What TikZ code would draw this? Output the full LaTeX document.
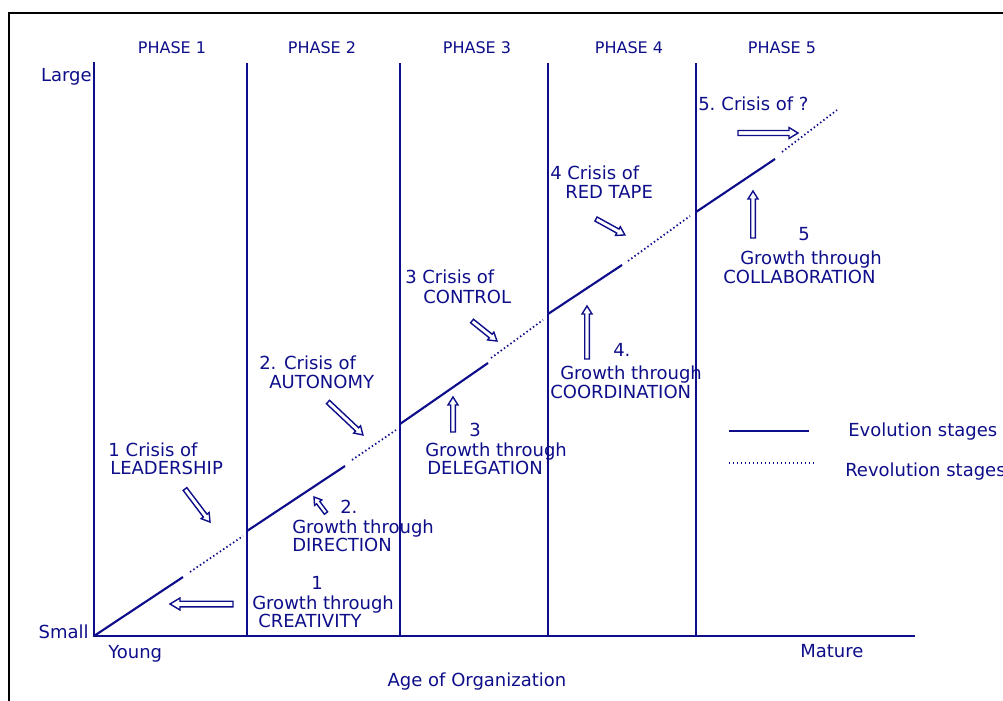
\documentclass[tikz,border=0pt]{standalone}
\usepackage{fontspec}
\setmainfont{DejaVu Sans}
\definecolor{navy}{RGB}{14,14,138}
\tikzset{
  lbl/.style={text=navy, inner sep=0pt, anchor=base west, font=\fontsize{13.5}{16}\selectfont},
  phlbl/.style={text=navy, inner sep=0pt, anchor=base, font=\fontsize{12}{14}\selectfont},
  axisline/.style={draw=navy, line width=1.5pt},
  evo/.style={draw=navy, line width=1.6pt},
  rev/.style={draw=navy, line width=1.3pt, dash pattern=on 1.1pt off 1.9pt},
  arrline/.style={draw=navy, line width=1.05pt, line join=miter},
  frameline/.style={draw=black, line width=1.5pt},
  pics/harrow/.style args={#1/#2/#3/#4}{code={
    \draw[arrline] (0,-#2) -- (#1-#4,-#2) -- (#1-#4,-#3) -- (#1,0) -- (#1-#4,#3) -- (#1-#4,#2) -- (0,#2) -- cycle;
  }}
}
\begin{document}
\begin{tikzpicture}[x=0.75pt,y=-0.75pt]
\useasboundingbox (0,0) rectangle (1003,700);
\clip (0,0) rectangle (1003,700);
% frame
\draw[frameline] (9,701) -- (9,13) -- (1004,13);
% axes and phase lines
\coordinate (o) at (94,636);
\coordinate (ytop) at (94,62);
\coordinate (xend) at (915,636);
\draw[axisline] (ytop) -- (o) -- (xend);
\foreach \x/\n in {247/2,400/3,548/4,696/5}{
  \coordinate (pt\n) at (\x,63);
  \coordinate (pb\n) at (\x,636);
  \draw[axisline] (pt\n) -- (pb\n);
}
% phase labels
\node[phlbl] (ph1) at (172,53) {PHASE 1};
\node[phlbl] (ph2) at (322,53) {PHASE 2};
\node[phlbl] (ph3) at (477,53) {PHASE 3};
\node[phlbl] (ph4) at (629,53) {PHASE 4};
\node[phlbl] (ph5) at (782,53) {PHASE 5};
% axis labels
\node[lbl, anchor=base east] (large) at (92,81) {Large};
\node[lbl, anchor=base east] (small) at (89,638) {Small};
\node[lbl] (young) at (108,658) {Young};
\node[lbl] (mature) at (800,657) {Mature};
\node[lbl, anchor=base] (age) at (477,686) {Age of Organization};
% growth line
\coordinate (s1a) at (94,636);  \coordinate (s1b) at (183,577);
\coordinate (d1a) at (190,572); \coordinate (d1b) at (243,536);
\coordinate (s2a) at (247,531); \coordinate (s2b) at (345,466);
\coordinate (d2a) at (352,460); \coordinate (d2b) at (396,430);
\coordinate (s3a) at (400,424); \coordinate (s3b) at (488,363);
\coordinate (d3a) at (491,358); \coordinate (d3b) at (543,320);
\coordinate (s4a) at (548,314); \coordinate (s4b) at (622,265);
\coordinate (d4a) at (628,261); \coordinate (d4b) at (690,216);
\coordinate (s5a) at (696,212); \coordinate (s5b) at (775,159);
\coordinate (d5a) at (782,152); \coordinate (d5b) at (837,110);
\foreach \i in {1,...,5}{
  \draw[evo] (s\i a) -- (s\i b);
  \draw[rev] (d\i a) -- (d\i b);
}
% crisis labels
\node[lbl] (c1a) at (108,456) {1\,\,Crisis of};
\node[lbl] (c1b) at (110,474) {LEADERSHIP};
\node[lbl] (c2a) at (259,369) {2. Crisis of};
\node[lbl] (c2b) at (269,388) {AUTONOMY};
\node[lbl] (c3a) at (405,283) {3 Crisis of};
\node[lbl] (c3b) at (423,303) {CONTROL};
\node[lbl] (c4a) at (550,179) {4 Crisis of};
\node[lbl] (c4b) at (565,198) {RED TAPE};
\node[lbl] (c5a) at (698,110) {5.\,\,Crisis of ?};
% growth labels
\node[lbl, anchor=base] (g1n) at (317,589) {1};
\node[lbl] (g1a) at (252,609) {Growth through};
\node[lbl] (g1b) at (258,627) {CREATIVITY};
\node[lbl] (g2n) at (340,513) {2.};
\node[lbl] (g2a) at (292,533) {Growth through};
\node[lbl] (g2b) at (292,551) {DIRECTION};
\node[lbl] (g3n) at (469,436) {3};
\node[lbl] (g3a) at (425,456) {Growth through};
\node[lbl] (g3b) at (427,474) {DELEGATION};
\node[lbl] (g4n) at (613,356) {4.};
\node[lbl] (g4a) at (560,379) {Growth through};
\node[lbl] (g4b) at (550,398) {COORDINATION};
\node[lbl] (g5n) at (798,240) {5};
\node[lbl] (g5a) at (740,264) {Growth through};
\node[lbl] (g5b) at (723,283) {COLLABORATION};
% arrows
\coordinate (a1) at (185,489);  \pic[rotate=-52.85] at (a1) {harrow=41.4/2.3/5/8};
\coordinate (a2) at (233,604);  \pic[rotate=180] at (a2) {harrow=63/2.8/6/10};
\coordinate (a3) at (326,513);  \pic[rotate=126.9] at (a3) {harrow=20/2/4.5/7};
\coordinate (a4) at (328,402);  \pic[rotate=-43.3] at (a4) {harrow=48/2.3/5/8};
\coordinate (a5) at (453,432);  \pic[rotate=90] at (a5) {harrow=35/2.3/5/8};
\coordinate (a6) at (472,321);  \pic[rotate=-38.7] at (a6) {harrow=32/2.3/5/8};
\coordinate (a7) at (587,359);  \pic[rotate=90] at (a7) {harrow=53/2.3/5/8};
\coordinate (a8) at (596,219);  \pic[rotate=-28.9] at (a8) {harrow=33/2.3/5/8};
\coordinate (a9) at (753,238);  \pic[rotate=90] at (a9) {harrow=47/2.3/5/8};
\coordinate (a10) at (738,133); \pic at (a10) {harrow=60/2.5/5.5/9};
% legend
\coordinate (le1) at (729,431); \coordinate (le2) at (809,431);
\coordinate (lr1) at (729,463); \coordinate (lr2) at (814,463);
\draw[evo] (le1) -- (le2);
\draw[rev] (lr1) -- (lr2);
\node[lbl] (levo) at (848,436) {Evolution stages};
\node[lbl] (lrev) at (845,476) {Revolution stages};
\end{tikzpicture}
\end{document}
